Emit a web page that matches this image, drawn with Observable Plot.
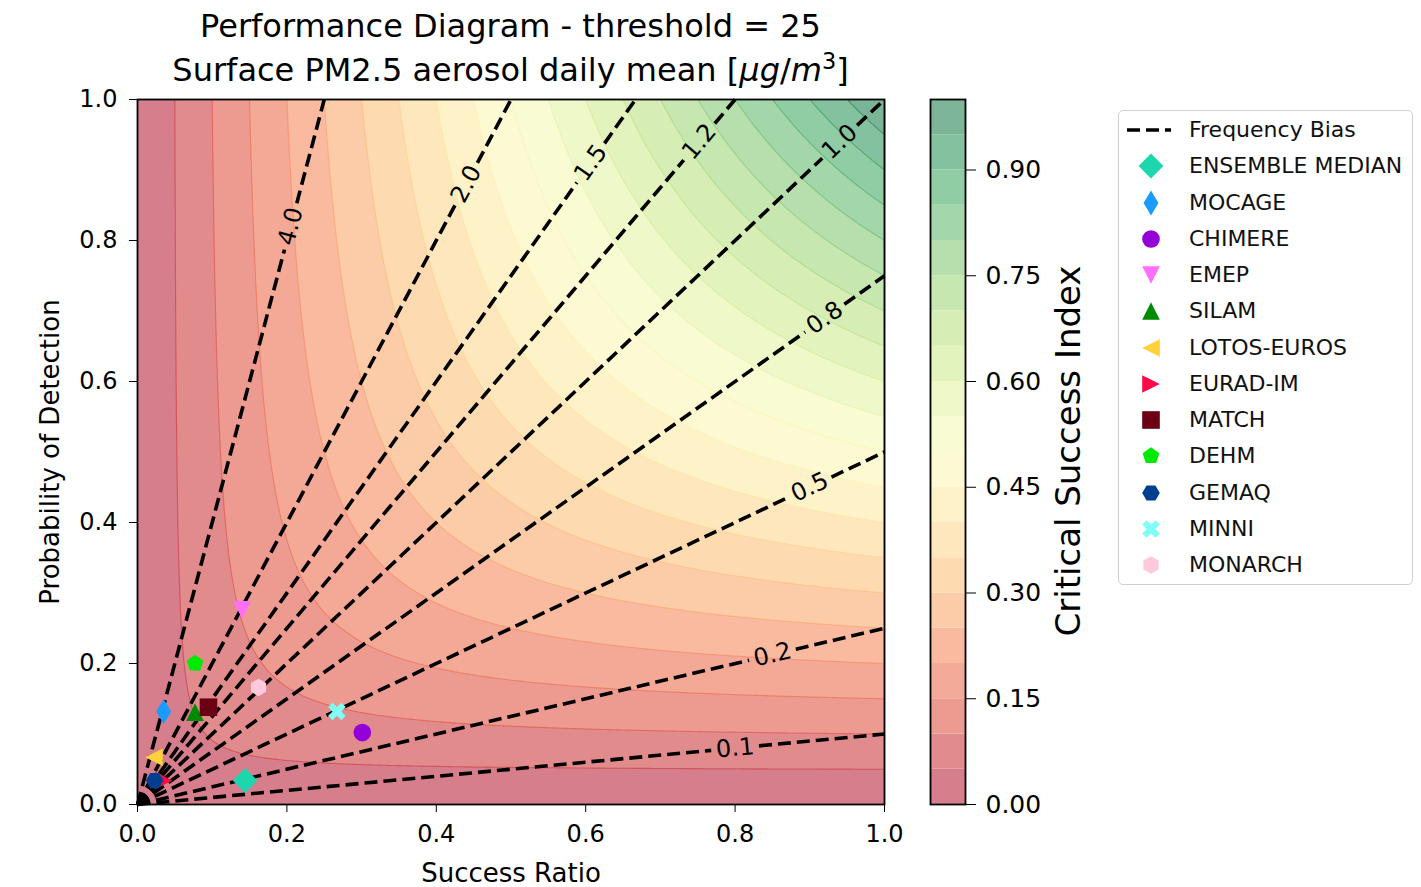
<!DOCTYPE html>
<html><head><meta charset="utf-8">
<script src="https://cdn.jsdelivr.net/npm/d3@7"></script>
<script src="https://cdn.jsdelivr.net/npm/@observablehq/plot@0.6"></script>
<style>
body{margin:0;background:#fff;font-family:"DejaVu Sans",sans-serif;}
#wrap{position:relative;width:1421px;height:887px;overflow:hidden;background:#fff;}
.abs{position:absolute;}
.title{left:0;width:1021px;text-align:center;font-size:32px;line-height:44px;white-space:nowrap;color:#000;}
svg [aria-label="x-axis label"], svg [aria-label="y-axis label"]{font-size:26px;}
#legend{left:1118px;top:110px;width:293px;height:473px;border:1.5px solid #d0d0d0;border-radius:5px;background:#fff;}
.row{position:absolute;left:0;height:36px;width:293px;}
.row svg{position:absolute;left:0;top:0;}
.row span{position:absolute;left:70px;top:0;line-height:36px;font-size:22px;white-space:nowrap;color:#111;}
#cblabel{left:1068px;top:451px;font-size:34px;white-space:nowrap;transform:translate(-50%,-50%) rotate(-90deg);}
</style></head><body><div id="wrap"></div>
<script>
// ---- data ----
const models = ["ENSEMBLE MEDIAN","MOCAGE","CHIMERE","EMEP","SILAM","LOTOS-EUROS","EURAD-IM","MATCH","DEHM","GEMAQ","MINNI","MONARCH"];
const successRatio = [0.144,0.035,0.301,0.140,0.077,0.022,0.035,0.095,0.077,0.023,0.267,0.162];
const probDetection = [0.034,0.132,0.102,0.276,0.131,0.067,0.034,0.138,0.200,0.034,0.132,0.166];
const markerColors = ["#1dd6ae","#1a9bff","#9400d8","#ff6eff","#008a00","#ffd23c","#ff0a46","#6b0014","#00ea00","#003f8f","#80fff6","#ffc9dd"];
const markerShapes = ["D","d","o","v","^","<",">","s","p","H","X","h"];
const biasValues = [0.1,0.25,0.5,0.75,1,1.25,1.5,2,4];
const biasLabels = ["0.1","0.2","0.5","0.8","1.0","1.2","1.5","2.0","4.0"];
const csiLevels = [0,0.05,0.1,0.15,0.2,0.25,0.3,0.35,0.4,0.45,0.5,0.55,0.6,0.65,0.7,0.75,0.8,0.85,0.9,0.95,1.0];
const axisTicks = [0,0.2,0.4,0.6,0.8,1.0];
const csiTicks = [0,0.15,0.3,0.45,0.6,0.75,0.9];
const titleLines = ["Performance Diagram - threshold = 25", "Surface PM2.5 aerosol daily mean [<i>μg</i>/<i>m</i><sup style=\"font-size:0.7em;vertical-align:0.55em;line-height:0\">3</sup>]"];

// ---- layout constants ----
const W = 747, H = 705;          // plot-area size in px
const ALPHA = 0.53;               // contour fill alpha
const labelFrac = [0.80,0.85,0.90,0.92,0.94,0.94,0.91,0.88,0.82];
const labelHalfGap = 24;
const MS = 8.8;

const csi = (sr, pod) => 1 / (1 / sr + 1 / pod - 1);

// ---- custom matplotlib-like markers ----
function poly(pts){return {draw(ctx,size){const R=Math.sqrt(size/Math.PI);pts.forEach(([x,y],i)=>i?ctx.lineTo(x*R,y*R):ctx.moveTo(x*R,y*R));ctx.closePath();}};}
const SQ = Math.SQRT2;
const ngon = (n, a0) => d3.range(n).map(i => {const a = a0 + i*2*Math.PI/n; return [Math.cos(a), Math.sin(a)];});
const shapes = {
  "o": {draw(ctx,size){const R=Math.sqrt(size/Math.PI);ctx.moveTo(R,0);ctx.arc(0,0,R,0,2*Math.PI);ctx.closePath();}},
  "D": poly([[0,-SQ],[SQ,0],[0,SQ],[-SQ,0]]),
  "d": poly([[0,-SQ],[0.6*SQ,0],[0,SQ],[-0.6*SQ,0]]),
  "^": poly([[0,-1],[1,1],[-1,1]]),
  "v": poly([[0,1],[1,-1],[-1,-1]]),
  "<": poly([[-1,0],[1,-1],[1,1]]),
  ">": poly([[1,0],[-1,-1],[-1,1]]),
  "s": poly([[-1,-1],[1,-1],[1,1],[-1,1]]),
  "p": poly(ngon(5,-Math.PI/2)),
  "h": poly(ngon(6,-Math.PI/2)),
  "H": poly(ngon(6,0)),
  "X": poly([[-1,-2],[0,-1],[1,-2],[2,-1],[1,0],[2,1],[1,2],[0,1],[-1,2],[-2,1],[-1,0],[-2,-1]].map(([x,y])=>[x/2,y/2]))
};

// ---- frequency bias line segments (with gaps for inline labels) ----
const segs = [], labels = [];
biasValues.forEach((b, i) => {
  const e = b >= 1 ? [1/b, 1] : [1, b];
  const L = Math.hypot(e[0]*W, e[1]*H);
  const f = labelFrac[i], g = labelHalfGap / L;
  [[0, f-g], [f+g, 1]].forEach(([t0, t1], k) => {
    segs.push({id: i+"_"+k, sr: t0*e[0], pod: t0*e[1]});
    segs.push({id: i+"_"+k, sr: t1*e[0], pod: t1*e[1]});
  });
  labels.push({sr: f*e[0], pod: f*e[1], text: biasLabels[i], rot: -Math.atan2(b*H, W)*180/Math.PI});
});

const fillLevels = csiLevels.slice(0, -1);
const lineLevels = csiLevels.slice(1, -1);
const fmt1 = d3.format(".1f");

const main = Plot.plot({
  width: 900, height: 887,
  marginLeft: 137, marginRight: 16, marginTop: 99, marginBottom: 83,
  style: {fontFamily: "'DejaVu Sans', sans-serif", fontSize: "24px", color: "#000", background: "transparent", overflow: "visible"},
  x: {domain: [0,1], ticks: axisTicks, tickFormat: fmt1, tickSize: 8, tickPadding: 12, label: "Success Ratio", labelAnchor: "center", labelArrow: "none", labelOffset: 77},
  y: {domain: [0,1], ticks: axisTicks, tickFormat: fmt1, tickSize: 8, tickPadding: 12, label: "Probability of Detection", labelAnchor: "center", labelArrow: "none", labelOffset: 97},
  color: {type: "linear", domain: [-0.025, 0.975], interpolate: d3.interpolateRdYlGn},
  marks: [
    Plot.contour({fill: csi, x1: 0, x2: 1, y1: 0, y2: 1, thresholds: fillLevels, stroke: "none", fillOpacity: 1}),
    Plot.frame({fill: "white", fillOpacity: 1 - ALPHA, stroke: "none"}),
    Plot.contour({value: csi, x1: 0, x2: 1, y1: 0, y2: 1, thresholds: lineLevels, stroke: "value", fill: "none", strokeWidth: 1.1, strokeOpacity: 0.5}),
    Plot.line(segs, {x: "sr", y: "pod", z: "id", stroke: "black", strokeWidth: 3.6, strokeDasharray: "13,6", strokeLinecap: "butt"}),
    Plot.text(labels, {x: "sr", y: "pod", text: "text", rotate: "rot", fill: "black", fontSize: 24}),
    ...models.map((m, i) => Plot.dot([i], {x: j => successRatio[j], y: j => probDetection[j], r: MS, symbol: shapes[markerShapes[i]], fill: markerColors[i], stroke: "none"})),
    Plot.frame({stroke: "black", strokeWidth: 1.8})
  ]
});
main.classList.add("abs");
main.style.left = "0px"; main.style.top = "0px";

const blend = t => d3.interpolate("white", d3.interpolateRdYlGn(t))(ALPHA);
const cbar = Plot.plot({
  width: 200, height: 887,
  marginLeft: 30, marginRight: 135, marginTop: 99, marginBottom: 83,
  style: {fontFamily: "'DejaVu Sans', sans-serif", fontSize: "25px", color: "#000", background: "transparent", overflow: "visible"},
  x: {domain: [0,1], axis: null},
  y: {domain: [0,1], axis: "right", ticks: csiTicks, tickFormat: d3.format(".2f"), tickSize: 10, tickPadding: 10, label: null},
  marks: [
    Plot.rect(fillLevels, {x1: 0, x2: 1, y1: d => d, y2: d => d + 0.05, fill: d => blend(d + 0.025), inset: 0}),
    Plot.frame({stroke: "black", strokeWidth: 1.8})
  ]
});
cbar.classList.add("abs");
cbar.style.left = "900px"; cbar.style.top = "0px";

const wrap = document.getElementById("wrap");
wrap.appendChild(main);
wrap.appendChild(cbar);

titleLines.forEach((t, i) => {
  const d = document.createElement("div");
  d.className = "abs title";
  d.style.top = (4 + i*44) + "px";
  d.innerHTML = t;
  wrap.appendChild(d);
});

const cbl = document.createElement("div");
cbl.id = "cblabel"; cbl.className = "abs";
cbl.textContent = "Critical Success Index";
wrap.appendChild(cbl);

// ---- legend ----
const leg = document.createElement("div");
leg.id = "legend"; leg.className = "abs";
wrap.appendChild(leg);
const rowH = 36.25, row0 = 1;
const addRow = (i, svgInner, text) => {
  const r = document.createElement("div");
  r.className = "row";
  r.style.top = (row0 + i*rowH) + "px";
  r.innerHTML = `<svg width="70" height="36">${svgInner}</svg><span>${text}</span>`;
  leg.appendChild(r);
};
addRow(0, `<line x1="8" x2="52" y1="18" y2="18" stroke="black" stroke-width="3.6" stroke-dasharray="13,6"/>`, "Frequency Bias");
models.forEach((m, i) => {
  const p = d3.symbol(shapes[markerShapes[i]], MS*MS*Math.PI)();
  addRow(i+1, `<path transform="translate(32,18)" d="${p}" fill="${markerColors[i]}"/>`, m);
});
</script></body></html>
